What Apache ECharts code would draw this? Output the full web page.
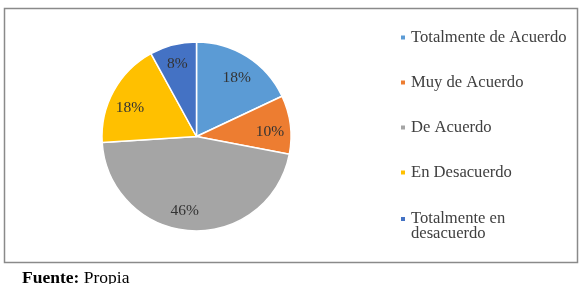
<!doctype html>
<html>

<head>
    <meta charset="utf-8">
    <title>Encuesta</title>
    <script type="text/javascript" src="https://cdn.jsdelivr.net/npm/echarts@6/dist/echarts.min.js"></script>
</head>

<body style="margin:0;padding:0;background:#fff">
    <div id="tb" style="width:581px;height:284px"></div>
    <script>
        // datos
        var categorias = ['Totalmente de Acuerdo', 'Muy de Acuerdo', 'De Acuerdo', 'En Desacuerdo', 'Totalmente en desacuerdo'];
        var porcentajes = [18, 10, 46, 18, 8];
        var colores = ['#5B9BD5', '#ED7D31', '#A5A5A5', '#FFC000', '#4472C4'];
        // pequeño ajuste de cada etiqueta [dx, dy] (como en Excel)
        var ajusteEtiquetas = [[-1, 6], [-3, 5], [-7, -2], [1, 9], [0, 2]];

        var fuente = 'Liberation Serif, Times New Roman, serif';
        var datos = categorias.map(function (c, i) {
            return { name: c, value: porcentajes[i], itemStyle: { color: colores[i] } };
        });

        var chart = echarts.init(document.getElementById('tb'));
        chart.setOption({
            animation: false,
            legend: [{
                orient: 'vertical',
                left: 399,
                top: 29,
                padding: 0,
                itemWidth: 6,
                itemHeight: 6,
                itemGap: 28,
                icon: 'rect',
                data: categorias.slice(0, 4),
                textStyle: { fontFamily: fuente, fontSize: 16.6, lineHeight: 17, color: '#404040' }
            }, {
                orient: 'vertical',
                left: 399,
                top: 195.5,
                padding: 0,
                itemWidth: 6,
                itemHeight: 6,
                icon: 'rect',
                data: categorias.slice(4),
                // linea vacia arriba para que la primera linea quede junto al icono
                formatter: function (n) { return '\n' + n.replace('en ', 'en\n'); },
                textStyle: { fontFamily: fuente, fontSize: 16.6, lineHeight: 15, color: '#404040' }
            }],
            graphic: [{
                type: 'rect',
                shape: { x: 4.5, y: 8.5, width: 573, height: 254 },
                style: { fill: 'none', stroke: '#8a8a8a', lineWidth: 1.5 },
                silent: true
            }, {
                type: 'text',
                x: 22,
                y: 269,
                style: {
                    text: '{b|Fuente:} Propia',
                    font: '17.5px ' + fuente,
                    fill: '#000',
                    rich: { b: { fontWeight: 'bold', fontSize: 17.5, fontFamily: fuente } }
                },
                silent: true
            }],
            series: [{
                name: 'pie',
                type: 'pie',
                center: [196.5, 136.5],
                radius: 94.5,
                startAngle: 90,
                clockwise: true,
                silent: true,
                label: { show: false },
                labelLine: { show: false },
                itemStyle: { borderColor: '#fff', borderWidth: 1.5 },
                data: datos
            }, {
                // solo etiquetas, a ~0.78 del radio
                name: 'etiquetas',
                type: 'pie',
                center: [196.5, 136.5],
                radius: [53.5, 94.5],
                startAngle: 90,
                clockwise: true,
                silent: true,
                itemStyle: { color: 'rgba(0,0,0,0)' },
                label: {
                    show: true,
                    position: 'inside',
                    formatter: '{c}%',
                    fontFamily: fuente,
                    fontSize: 15.5,
                    color: '#333'
                },
                labelLine: { show: false },
                labelLayout: function (p) {
                    var a = ajusteEtiquetas[p.dataIndex];
                    return { dx: a[0], dy: a[1] };
                },
                data: categorias.map(function (c, i) { return { name: c, value: porcentajes[i] }; })
            }]
        });
    </script>
</body>

</html>
